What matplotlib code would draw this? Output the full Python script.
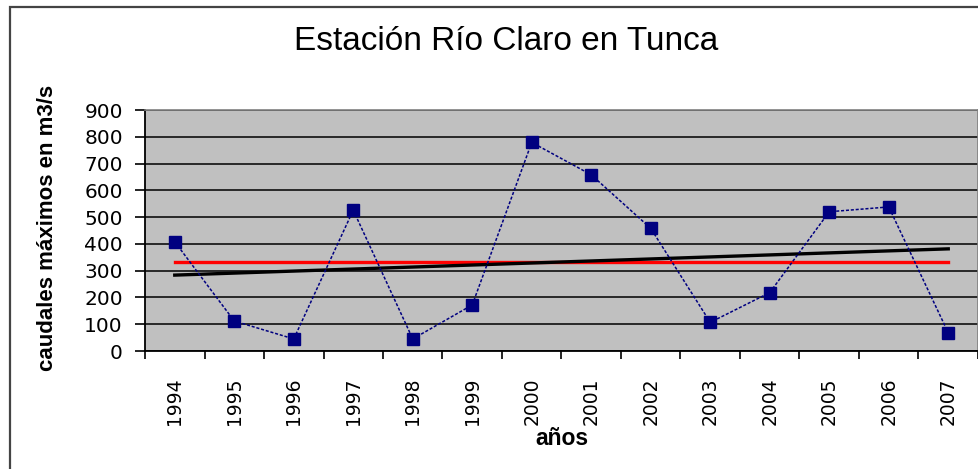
import matplotlib
matplotlib.use("Agg")
import matplotlib.pyplot as plt
from matplotlib.patches import Rectangle
import numpy as np

# caudales máximos anuales, Estación Río Claro en Tunca (m3/s)
anios = ['1994', '1995', '1996', '1997', '1998', '1999', '2000',
         '2001', '2002', '2003', '2004', '2005', '2006', '2007']
caudales = [408, 112, 45, 526, 45, 172, 779, 658, 458, 107, 218, 520, 538, 68]

x = np.arange(len(anios))
y = np.array(caudales, dtype=float)
promedio = y.mean()
pend, orig = np.polyfit(x, y, 1)      # tendencia lineal

W, H = 979, 469
fig = plt.figure(figsize=(W / 100, H / 100), dpi=100)
ax = fig.add_axes([145 / W, (H - 351) / H, (978 - 145) / W, (351 - 110) / H])
ax.set_facecolor('#C0C0C0')

# marco del gráfico
fig.patches.append(Rectangle((10 / W, -0.1), 1.2, (H - 7) / H + 0.1,
                             transform=fig.transFigure, fill=False,
                             edgecolor='#444444', linewidth=1.6))

ax.plot(x, np.full(len(x), promedio), color='#FF0000', lw=2.4, zorder=3)
ax.plot(x, orig + pend * x, color='black', lw=2.4, zorder=3)
ax.plot(x, y, color='#000080', lw=1.1, ls=(0, (2, 1.2)), marker='s',
        markersize=8, markerfacecolor='#000080', markeredgecolor='#000080',
        zorder=4)

ax.set_xlim(-0.5, len(anios) - 0.5)
ax.set_ylim(0, 900)
ax.set_yticks(range(0, 901, 100))
ax.yaxis.grid(True, color='black', lw=1.1)
ax.set_axisbelow(True)

ax.set_xticks(x)
ax.set_xticklabels(anios, rotation=90, fontsize=13.5, va='top')
ax.set_xticks(np.arange(-0.5, len(anios), 1), minor=True)
ax.tick_params(axis='x', which='major', length=0, pad=19)
ax.tick_params(axis='x', which='minor', length=6, width=1.2, direction='out')
ax.tick_params(axis='y', length=7, width=1.2, direction='out', pad=9, labelsize=14.5)

for s in ['top', 'right']:
    ax.spines[s].set_color('#808080')
    ax.spines[s].set_linewidth(1.2)
for s in ['left', 'bottom']:
    ax.spines[s].set_color('black')
    ax.spines[s].set_linewidth(1.3)

fig.text(506 / W, 1 - 41 / H, 'Estación Río Claro en Tunca', fontsize=24,
         family='Liberation Sans', ha='center', va='center')
fig.text(48 / W, 1 - 228 / H, 'caudales máximos en m3/s', fontsize=16,
         family='Liberation Sans', fontweight='bold', rotation=90,
         ha='center', va='center')
fig.text(562 / W, 1 - 438 / H, 'años', fontsize=16.5,
         family='Liberation Sans', fontweight='bold', ha='center', va='center')

fig.savefig('out.png', dpi=100)
